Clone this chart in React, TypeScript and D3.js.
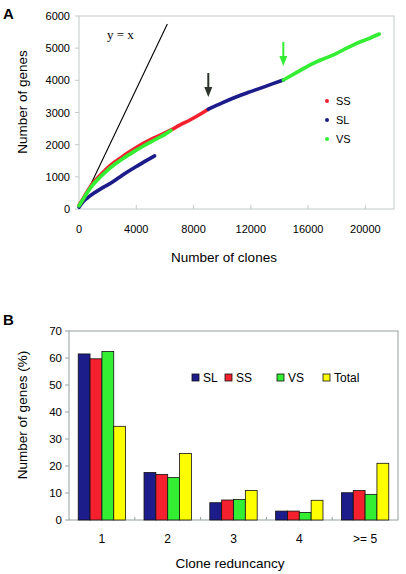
import React from "react";
import * as d3 from "d3";

// ---------- Panel A data ----------
const ssCurve: [number, number][] = [
  [0, 120], [300, 330], [600, 560], [1000, 820], [1500, 1060], [2000, 1280], [2500, 1460],
  [3000, 1620], [3500, 1770], [4000, 1910], [4500, 2040], [5000, 2160], [5500, 2260],
  [6000, 2370], [6400, 2450], [7000, 2600], [7750, 2767], [8400, 2930], [9030, 3100],
];
const vsSmallCurve: [number, number][] = [
  [0, 100], [300, 310], [600, 530], [1000, 770], [1500, 1000], [2000, 1210], [2500, 1390],
  [3000, 1550], [3500, 1690], [4000, 1830], [4500, 1960], [5000, 2080], [5500, 2200],
  [6000, 2320], [6420, 2440],
];
const slSmallCurve: [number, number][] = [
  [0, 60], [300, 230], [600, 350], [1000, 480], [1600, 650], [2200, 800], [2800, 980],
  [3400, 1160], [4000, 1320], [4600, 1480], [5280, 1650],
];
const slContCurve: [number, number][] = [
  [9030, 3100], [10000, 3300], [11010, 3490], [11800, 3620], [12640, 3750], [13500, 3890], [14270, 4010],
];
const vsContCurve: [number, number][] = [
  [14270, 4010], [15300, 4270], [16360, 4530], [17200, 4690], [17990, 4840], [18700, 5000],
  [19390, 5150], [20200, 5290], [20970, 5440],
];
const yxLine: [number, number][] = [[0, 0], [6170, 5750]];
const xTicksA = [0, 4000, 8000, 12000, 16000, 20000];
const yTicksA = [0, 1000, 2000, 3000, 4000, 5000, 6000];
const legendA = ["SS", "SL", "VS"];
const arrowDark: [number, number] = [9030, 3100];
const arrowGreen: [number, number] = [14270, 4010];

// ---------- Panel B data ----------
const categoriesB = ["1", "2", "3", "4", ">= 5"];
const seriesB = ["SL", "SS", "VS", "Total"];
const valuesSL = [61.5, 17.6, 6.4, 3.3, 10.1];
const valuesSS = [59.7, 16.9, 7.4, 3.3, 10.9];
const valuesVS = [62.4, 15.7, 7.6, 2.8, 9.5];
const valuesTotal = [34.7, 24.6, 10.9, 7.3, 21.0];
const yTicksB = [0, 10, 20, 30, 40, 50, 60, 70];

const C_RED = "#f5202e";
const C_BLUE = "#1c1c8a";
const C_GREEN = "#33ee33";
const C_YELLOW = "#ffff00";

const FONT = "'Liberation Sans', Arial, sans-serif";

export default function App() {
  // Panel A scales
  const xA = d3.scaleLinear().domain([0, 22000]).range([79, 394]);
  const yA = d3.scaleLinear().domain([0, 6000]).range([209, 16]);
  const lineA = d3
    .line<[number, number]>()
    .x((d) => xA(d[0]))
    .y((d) => yA(d[1]))
    .curve(d3.curveMonotoneX);

  // Panel B scales
  const xB = d3.scaleBand<string>().domain(categoriesB).range([69, 398]).paddingInner(0.28).paddingOuter(0.14);
  const xSub = d3.scaleBand<string>().domain(seriesB).range([0, xB.bandwidth()]);
  const yB = d3.scaleLinear().domain([0, 70]).range([520, 331]);
  const valuesB = [valuesSL, valuesSS, valuesVS, valuesTotal];
  const colorsB = [C_BLUE, C_RED, C_GREEN, C_YELLOW];

  const curveStyle = { fill: "none", strokeWidth: 3.6, strokeLinecap: "round" as const, strokeLinejoin: "round" as const };

  const arrow = (pt: [number, number], color: string, top: number, bottom: number) => {
    const x = xA(pt[0]);
    return (
      <g>
        <line x1={x} x2={x} y1={top} y2={bottom - 8} stroke={color} strokeWidth={2} />
        <path d={`M${x - 4},${bottom - 10} L${x + 4},${bottom - 10} L${x},${bottom} Z`} fill={color} />
      </g>
    );
  };

  return (
    <svg width={406} height={574} style={{ position: "absolute", left: 0, top: 0, background: "#fff" }} fontFamily={FONT}>
      <rect x={0} y={0} width={406} height={574} fill="#fff" />
      {/* ---------------- Panel A ---------------- */}
      <text x={3} y={19} fontSize={15} fontWeight="bold">A</text>
      <rect x={79} y={16} width={315} height={193} fill="none" stroke="#c3cacc" strokeWidth={1} />
      {yTicksA.map((t) => (
        <g key={"ya" + t}>
          <line x1={75} x2={79} y1={yA(t)} y2={yA(t)} stroke="#c3cacc" />
          <text x={70} y={yA(t) + 4} fontSize={11} textAnchor="end">{t}</text>
        </g>
      ))}
      {xTicksA.map((t) => (
        <g key={"xa" + t}>
          <line x1={xA(t)} x2={xA(t)} y1={209} y2={205} stroke="#c3cacc" />
          <text x={xA(t)} y={233} fontSize={11} textAnchor="middle">{t}</text>
        </g>
      ))}
      <text x={224} y={262} fontSize={13.5} textAnchor="middle">Number of clones</text>
      <text transform="translate(27,102) rotate(-90)" fontSize={13.5} textAnchor="middle">Number of genes</text>

      <path d={lineA(yxLine) || ""} stroke="#000" strokeWidth={1.1} fill="none" />
      <text x={107} y={39} fontSize={13} fontFamily="'Liberation Serif', 'Times New Roman', serif">y = x</text>

      <path d={lineA(slSmallCurve) || ""} stroke={C_BLUE} {...curveStyle} />
      <path d={lineA(ssCurve) || ""} stroke={C_RED} {...curveStyle} />
      <path d={lineA(vsSmallCurve) || ""} stroke={C_GREEN} {...curveStyle} />
      <path d={lineA(slContCurve) || ""} stroke={C_BLUE} {...curveStyle} />
      <path d={lineA(vsContCurve) || ""} stroke={C_GREEN} {...curveStyle} />

      {arrow(arrowDark, "#2b332b", 73, 97)}
      {arrow(arrowGreen, C_GREEN, 42, 66)}

      {legendA.map((s, i) => (
        <g key={"la" + s}>
          <circle cx={327} cy={101 + i * 19} r={2} fill={[C_RED, C_BLUE, C_GREEN][i]} />
          <text x={336} y={105 + i * 19} fontSize={11}>{s}</text>
        </g>
      ))}

      {/* ---------------- Panel B ---------------- */}
      <text x={3} y={325} fontSize={15} fontWeight="bold">B</text>
      <rect x={69} y={331} width={329} height={189} fill="none" stroke="#94a0a0" strokeWidth={1} />
      {yTicksB.map((t) => (
        <g key={"yb" + t}>
          <line x1={65} x2={69} y1={yB(t)} y2={yB(t)} stroke="#94a0a0" />
          <text x={62} y={yB(t) + 4} fontSize={11.5} textAnchor="end">{t}</text>
        </g>
      ))}
      {categoriesB.map((c, i) => (
        <g key={"xb" + c}>
          {i > 0 && <line x1={69 + i * xB.step()} x2={69 + i * xB.step()} y1={520} y2={517} stroke="#94a0a0" />}
          <text x={(xB(c) || 0) + xB.bandwidth() / 2} y={543} fontSize={12} textAnchor="middle">{c}</text>
        </g>
      ))}
      {categoriesB.map((c, ci) =>
        seriesB.map((s, si) => {
          const v = valuesB[si][ci];
          return (
            <rect
              key={c + s}
              x={(xB(c) || 0) + (xSub(s) || 0)}
              y={yB(v)}
              width={xSub.bandwidth()}
              height={520 - yB(v)}
              fill={colorsB[si]}
              stroke="#111"
              strokeWidth={0.8}
            />
          );
        })
      )}
      <text x={230} y={568} fontSize={13.5} textAnchor="middle">Clone reduncancy</text>
      <text transform="translate(27,415) rotate(-90)" fontSize={13.5} textAnchor="middle">Number of genes (%)</text>

      {seriesB.map((s, i) => {
        const xs = [192, 225, 277, 323][i];
        return (
          <g key={"lb" + s}>
            <rect x={xs} y={374} width={7} height={7} fill={colorsB[i]} stroke="#111" strokeWidth={0.8} />
            <text x={xs + 11} y={382} fontSize={12}>{s}</text>
          </g>
        );
      })}
    </svg>
  );
}
